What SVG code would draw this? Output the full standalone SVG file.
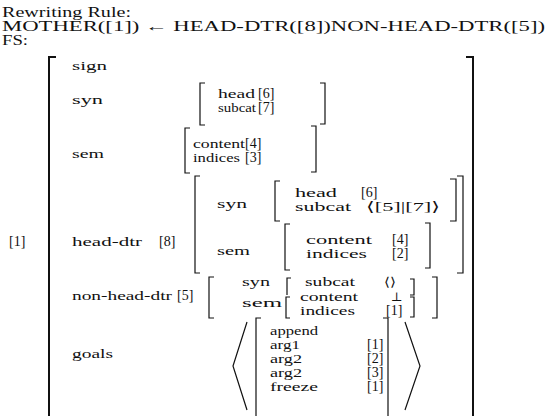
<svg xmlns="http://www.w3.org/2000/svg" width="546" height="416" viewBox="0 0 546 416" font-family="'Liberation Serif','Times New Roman','DejaVu Serif',serif">
<style>
text{font-family:"Liberation Serif","Times New Roman","DejaVu Serif",serif;font-size:13.5px;fill:#111}
.h{font-size:14px}
.t{font-size:14px}
.s{font-size:12.5px}
.br{fill:none;stroke:#111;stroke-width:1.2}
.bb{fill:none;stroke:#111;stroke-width:2}
</style>
<rect width="546" height="416" fill="#fff"/>
<g id="rule">
<text class="h" x="2" y="17" textLength="129" lengthAdjust="spacingAndGlyphs">Rewriting Rule:</text>
<text class="h" x="2" y="31" textLength="543" lengthAdjust="spacingAndGlyphs">MOTHER([1]) ← HEAD-DTR([8])NON-HEAD-DTR([5])</text>
<text class="h" x="2" y="45" textLength="26" lengthAdjust="spacingAndGlyphs">FS:</text>
</g>
<g id="fs">
<text class="t" x="9" y="246">[1]</text>
<path class="bb" d="M56,57 H49 V416"/>
<path class="bb" d="M466,57 H473 V416"/>
</g>
<g id="sign">
<text x="72" y="70" textLength="35" lengthAdjust="spacingAndGlyphs">sign</text>
</g>
<g id="syn">
<text x="72" y="104" textLength="31" lengthAdjust="spacingAndGlyphs">syn</text>
<path class="br" d="M205,83 H200 V125 H205"/>
<text x="218" y="98" textLength="37" lengthAdjust="spacingAndGlyphs">head</text><text class="t" x="258" y="98">[6]</text>
<text x="218" y="112" textLength="38" lengthAdjust="spacingAndGlyphs">subcat</text><text class="t" x="258" y="112">[7]</text>
<path class="br" d="M320,83 H325 V124 H320"/>
</g>
<g id="sem">
<text x="72" y="158" textLength="32" lengthAdjust="spacingAndGlyphs">sem</text>
<path class="br" d="M190,128 H185 V173 H190"/>
<text x="193" y="148" textLength="52" lengthAdjust="spacingAndGlyphs">content</text><text class="t" x="245" y="148">[4]</text>
<text x="193" y="162" textLength="47" lengthAdjust="spacingAndGlyphs">indices</text><text class="t" x="245" y="162">[3]</text>
<path class="br" d="M311,126 H316 V172 H311"/>
</g>
<g id="head-dtr">
<text x="72" y="246" textLength="70" lengthAdjust="spacingAndGlyphs">head-dtr</text><text class="t" x="159" y="246">[8]</text>
<path class="br" d="M200,176 H195 V273 H200"/>
<text x="217" y="208" textLength="30" lengthAdjust="spacingAndGlyphs">syn</text>
<path class="br" d="M280,181 H275 V221 H280"/>
<text x="295" y="197" textLength="42" lengthAdjust="spacingAndGlyphs">head</text><text class="t" x="361" y="197">[6]</text>
<text x="295" y="211" textLength="56" lengthAdjust="spacingAndGlyphs">subcat</text><text x="366" y="211" textLength="74" lengthAdjust="spacingAndGlyphs">⟨[5]|[7]⟩</text>
<path class="br" d="M450,179 H456 V221 H450"/>
<text x="217" y="255" textLength="33" lengthAdjust="spacingAndGlyphs">sem</text>
<path class="br" d="M290,224 H285 V270 H290"/>
<text x="306" y="244" textLength="66" lengthAdjust="spacingAndGlyphs">content</text><text class="t" x="392" y="244">[4]</text>
<text x="306" y="258" textLength="61" lengthAdjust="spacingAndGlyphs">indices</text><text class="t" x="392" y="258">[2]</text>
<path class="br" d="M425,223 H430 V268 H425"/>
<path class="br" d="M457,176 H463 V273 H457"/>
</g>
<g id="non-head-dtr">
<text x="72" y="300" textLength="100" lengthAdjust="spacingAndGlyphs">non-head-dtr</text><text class="t" x="177" y="300">[5]</text>
<path class="br" d="M214,277 H209 V318 H214"/>
<text class="s" x="242" y="286" textLength="28" lengthAdjust="spacingAndGlyphs">syn</text>
<path class="br" d="M291,278 H287 V295"/>
<text class="s" x="305" y="286" textLength="50" lengthAdjust="spacingAndGlyphs">subcat</text><text class="s" x="384" y="286" textLength="12" lengthAdjust="spacingAndGlyphs">⟨⟩</text>
<path class="br" d="M410,279 H414 V295 H410"/>
<text class="s" x="242" y="307" textLength="40" lengthAdjust="spacingAndGlyphs">sem</text>
<path class="br" d="M290,297 H286 V318 H290"/>
<text class="s" x="300" y="301" textLength="58" lengthAdjust="spacingAndGlyphs">content</text><text class="s" x="391" y="301">⊥</text>
<text class="s" x="300" y="315" textLength="55" lengthAdjust="spacingAndGlyphs">indices</text><text class="t" x="386" y="315">[1]</text>
<path class="br" d="M410,297 H414 V317 H410"/>
<path class="br" d="M432,277 H437 V318 H432"/>
</g>
<g id="goals">
<text x="72" y="358" textLength="41" lengthAdjust="spacingAndGlyphs">goals</text>
<polyline class="br" points="247,322 233,366 247,410"/>
<path class="br" d="M261,318 H256 V416"/>
<text x="270" y="335" textLength="48" lengthAdjust="spacingAndGlyphs">append</text>
<text x="270" y="349" textLength="30" lengthAdjust="spacingAndGlyphs">arg1</text><text class="t" x="367" y="349">[1]</text>
<text x="270" y="363" textLength="32" lengthAdjust="spacingAndGlyphs">arg2</text><text class="t" x="367" y="363">[2]</text>
<text x="270" y="377" textLength="32" lengthAdjust="spacingAndGlyphs">arg2</text><text class="t" x="367" y="377">[3]</text>
<text x="270" y="391" textLength="48" lengthAdjust="spacingAndGlyphs">freeze</text><text class="t" x="367" y="391">[1]</text>
<path class="br" d="M383,318 H388 V416"/>
<polyline class="br" points="405,322 420,366 405,410"/>
</g>
</svg>
